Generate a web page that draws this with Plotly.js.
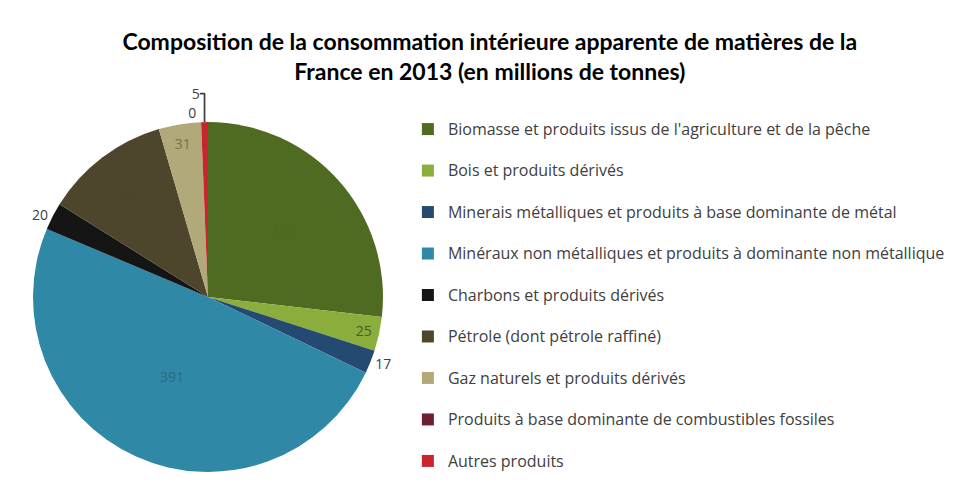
<!DOCTYPE html>
<html>
<head>
<meta charset="utf-8">
<script src="https://cdn.plot.ly/plotly-3.0.1.min.js"></script>
<style>html,body{margin:0;padding:0;background:#fff}#chart{width:953px;height:489px}</style>
</head>
<body>
<div id="chart"></div>
<script>
const categories = [
  "Biomasse et produits issus de l'agriculture et de la pêche",
  "Bois et produits dérivés",
  "Minerais métalliques et produits à base dominante de métal",
  "Minéraux non métalliques et produits à dominante non métallique",
  "Charbons et produits dérivés",
  "Pétrole (dont pétrole raffiné)",
  "Gaz naturels et produits dérivés",
  "Produits à base dominante de combustibles fossiles",
  "Autres produits"
];
const values = [213, 25, 17, 391, 20, 92, 31, 0, 5];
const colors = ['#4f6b22', '#8aad3b', '#254a72', '#2f88a6', '#151515', '#4d462c', '#b2a97a', '#6b1f2f', '#c9252f'];
const textPositions = ['inside', 'inside', 'outside', 'inside', 'outside', 'inside', 'inside', 'outside', 'outside'];
const textColors = ['#4d6821', '#4a5a2a', '#404040', '#2a6a82', '#404040', '#4b442b', '#7a7248', '#404040', '#404040'];

const trace = {
  type: 'pie',
  labels: categories.map(c => '<span style="font-size:16px">' + c + '</span><br> '),
  values: values,
  sort: false,
  direction: 'clockwise',
  rotation: 0,
  marker: {colors: colors, line: {width: 0}},
  textinfo: 'value',
  textposition: textPositions,
  insidetextorientation: 'horizontal',
  insidetextfont: {family: 'Open Sans, sans-serif', size: 14, color: textColors},
  outsidetextfont: {family: 'Open Sans, sans-serif', size: 14, color: '#404040'},
  domain: {x: [0.0346, 0.4019], y: [0.0348, 0.7505]},
  showlegend: true
};

const layout = {
  width: 953, height: 489,
  margin: {l: 0, r: 0, t: 0, b: 0, autoexpand: false},
  paper_bgcolor: '#ffffff',
  title: {
    text: '<b>Composition de la consommation intérieure apparente de matières de la<br>France en 2013 (en millions de tonnes)</b>',
    font: {family: 'Lato, sans-serif', size: 23, color: '#000000'},
    x: 0.514, xanchor: 'center', y: 0.898, yanchor: 'top'
  },
  legend: {
    x: 0.428, xanchor: 'left', y: 0.769, yanchor: 'top',
    valign: 'top',
    font: {family: 'Open Sans, sans-serif', size: 14.8, color: '#404040'},
    itemwidth: 30,
    bgcolor: 'rgba(0,0,0,0)'
  }
};

Plotly.newPlot('chart', [trace], layout, {displayModeBar: false});
</script>
</body>
</html>
